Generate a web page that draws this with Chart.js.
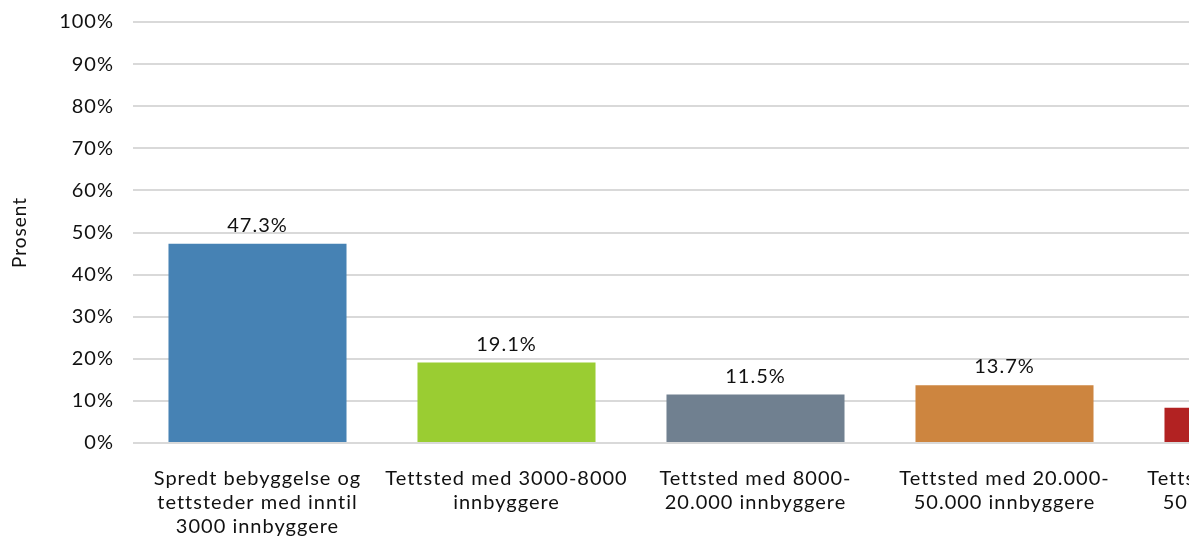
<!DOCTYPE html>
<html lang="no">
<head>
<meta charset="utf-8">
<title>Prosent etter bostedsstørrelse</title>
<script src="https://cdn.jsdelivr.net/npm/chart.js@4/dist/chart.umd.min.js"></script>
<style>
  html, body { margin: 0; padding: 0; background: #fff; overflow: hidden; }
  /* the chart is wider than the frame: the last category runs off the right edge */
  #frame { position: absolute; left: 0; top: 0; width: 1189px; height: 547px; overflow: hidden; }
  #wrap { position: absolute; left: 0; top: -9px; width: 1400px; height: 556px; }
</style>
</head>
<body>
<div id="frame"><div id="wrap"><canvas id="chart"></canvas></div></div>
<script>
const categories = [
  ["Spredt bebyggelse og", "tettsteder med inntil", "3000 innbyggere"],
  ["Tettsted med 3000-8000", "innbyggere"],
  ["Tettsted med 8000-", "20.000 innbyggere"],
  ["Tettsted med 20.000-", "50.000 innbyggere"],
  ["Tettsted med mer enn", "50.000 innbyggere"]
];
const shares = [47.3, 19.1, 11.5, 13.7, 8.4];
const barColors = ["#4682B4", "#9ACD32", "#708090", "#CD853F", "#B22222"];
const yTicks = [0, 10, 20, 30, 40, 50, 60, 70, 80, 90, 100];

const FONT = "Lato, 'Open Sans', sans-serif";
const TEXT = "#111";
const SPACING = "1px";

// slightly tracked text, like the office chart style
const tracking = {
  id: "tracking",
  beforeLayout(chart) { chart.ctx.letterSpacing = SPACING; },
  beforeDraw(chart) { chart.ctx.letterSpacing = SPACING; }
};

// value labels above each bar
const barLabels = {
  id: "barLabels",
  afterDatasetsDraw(chart) {
    const ctx = chart.ctx;
    const meta = chart.getDatasetMeta(0);
    ctx.save();
    ctx.letterSpacing = SPACING;
    ctx.font = "20px " + FONT;
    ctx.fillStyle = TEXT;
    ctx.textAlign = "center";
    ctx.textBaseline = "alphabetic";
    meta.data.forEach((bar, i) => {
      ctx.fillText(shares[i].toFixed(1) + "%", bar.x, bar.y - 12);
    });
    ctx.restore();
  }
};

new Chart(document.getElementById("chart"), {
  type: "bar",
  data: {
    labels: categories,
    datasets: [{
      data: shares,
      backgroundColor: barColors,
      borderWidth: 0,
      categoryPercentage: 1,
      barPercentage: 0.715
    }]
  },
  options: {
    responsive: true,
    maintainAspectRatio: false,
    animation: false,
    layout: { padding: { top: 0, right: 22, left: 0, bottom: 0 } },
    plugins: {
      legend: { display: false },
      tooltip: { enabled: false }
    },
    scales: {
      x: {
        grid: { display: false },
        border: { display: false },
        ticks: {
          color: TEXT,
          font: { family: FONT, size: 20, lineHeight: 1.22 },
          padding: 15,
          maxRotation: 0,
          autoSkip: false
        },
        afterFit(scale) { scale.height = 104; }
      },
      y: {
        min: 0,
        max: 100,
        afterBuildTicks(scale) { scale.ticks = yTicks.map(v => ({ value: v })); },
        grid: { color: "#d9d9d9", lineWidth: 2, drawTicks: false },
        border: { display: false },
        ticks: {
          color: TEXT,
          font: { family: FONT, size: 20 },
          padding: 19,
          callback: v => v + "%"
        },
        title: {
          display: true,
          text: "Prosent",
          color: TEXT,
          font: { family: FONT, size: 19 },
          padding: { top: 8, bottom: 0 }
        },
        afterFit(scale) { scale.width = 133; }
      }
    }
  },
  plugins: [tracking, barLabels]
});
</script>
</body>
</html>
